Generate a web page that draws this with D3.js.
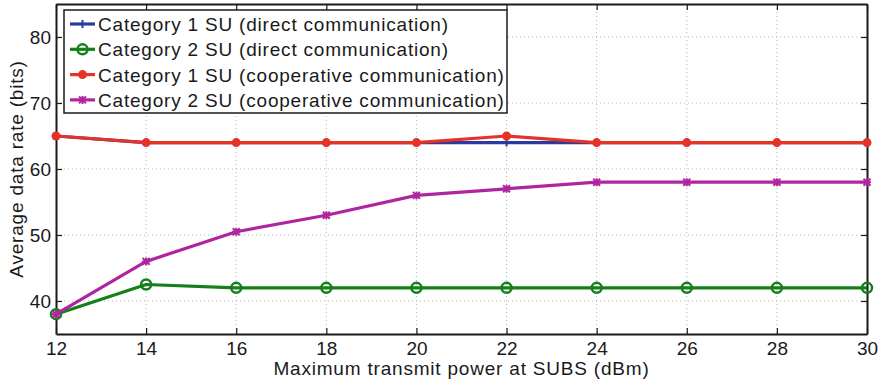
<!DOCTYPE html>
<html>
<head>
<meta charset="utf-8">
<script src="https://cdn.jsdelivr.net/npm/d3@7"></script>
<style>
  body { margin: 0; background: #fff; }
  text { font-family: "Liberation Sans", Arial, Helvetica, sans-serif; fill: #1a1a1a; }
</style>
</head>
<body>
<div id="chart"></div>
<script>
// data
var power = [12, 14, 16, 18, 20, 22, 24, 26, 28, 30];
var cat1Direct = [65, 64, 64, 64, 64, 64, 64, 64, 64, 64];
var cat2Direct = [38, 42.5, 42, 42, 42, 42, 42, 42, 42, 42];
var cat1Coop = [65, 64, 64, 64, 64, 65, 64, 64, 64, 64];
var cat2Coop = [38, 46, 50.5, 53, 56, 57, 58, 58, 58, 58];
var xTicks = [12, 14, 16, 18, 20, 22, 24, 26, 28, 30];
var yTicks = [40, 50, 60, 70, 80];

var series = [
  {name: "Category 1 SU (direct communication)", values: cat1Direct, colour: "#2b3a9e", marker: "plus"},
  {name: "Category 2 SU (direct communication)", values: cat2Direct, colour: "#13801a", marker: "circle"},
  {name: "Category 1 SU (cooperative communication)", values: cat1Coop, colour: "#e5332a", marker: "dot"},
  {name: "Category 2 SU (cooperative communication)", values: cat2Coop, colour: "#b0259f", marker: "star"}
];

var width = 884, height = 388;
var margin = {top: 4, right: 17, bottom: 54, left: 56};
var widthG = width - margin.left - margin.right;
var heightG = height - margin.top - margin.bottom;
var fontSize = "19px";
var spacing = "0.8px";

var svg = d3.select("#chart").append("svg")
  .attr("width", width)
  .attr("height", height);

var g = svg.append("g")
  .attr("transform", "translate(" + margin.left + "," + margin.top + ")");

var x = d3.scaleLinear().domain([12, 30]).range([0, widthG]);
var y = d3.scaleLinear().domain([35, 85]).range([heightG, 0]);

//grid
var grid = g.append("g").attr("class", "grid");
grid.selectAll(".vgrid")
  .data(xTicks.slice(1, -1))
  .enter().append("line")
  .attr("x1", function(d) { return x(d); })
  .attr("x2", function(d) { return x(d); })
  .attr("y1", 0)
  .attr("y2", heightG)
  .attr("stroke", "#b5b5b5")
  .attr("stroke-width", 1)
  .attr("stroke-dasharray", "1,3");
grid.selectAll(".hgrid")
  .data(yTicks)
  .enter().append("line")
  .attr("x1", 0)
  .attr("x2", widthG)
  .attr("y1", function(d) { return y(d); })
  .attr("y2", function(d) { return y(d); })
  .attr("stroke", "#b5b5b5")
  .attr("stroke-width", 1)
  .attr("stroke-dasharray", "1,3");

//axes, ticks pointing inwards like matlab
var gx = g.append("g")
  .attr("transform", "translate(0," + heightG + ")")
  .call(d3.axisBottom(x).tickValues(xTicks).tickSize(-6).tickPadding(8).tickSizeOuter(0));
var gxTop = g.append("g")
  .call(d3.axisTop(x).tickValues(xTicks).tickSize(-6).tickFormat("").tickSizeOuter(0));
var gy = g.append("g")
  .call(d3.axisLeft(y).tickValues(yTicks).tickSize(-6).tickPadding(5).tickSizeOuter(0));
var gyRight = g.append("g")
  .attr("transform", "translate(" + widthG + ",0)")
  .call(d3.axisRight(y).tickValues(yTicks).tickSize(-6).tickFormat("").tickSizeOuter(0));

[gx, gxTop, gy, gyRight].forEach(function(ax) {
  ax.select(".domain").attr("stroke", "#1a1a1a").attr("stroke-width", 2);
  ax.selectAll(".tick line").attr("stroke", "#1a1a1a").attr("stroke-width", 1.2);
  ax.selectAll(".tick text").style("font-size", fontSize).style("fill", "#1a1a1a");
});

//lines
var line = d3.line()
  .x(function(d, i) { return x(power[i]); })
  .y(function(d) { return y(d); });

function drawMarker(sel, type, colour) {
  if (type == "plus") {
    sel.append("path").attr("d", "M-4,0H4M0,-4V4")
      .attr("stroke", colour).attr("stroke-width", 2).attr("fill", "none");
  } else if (type == "circle") {
    sel.append("circle").attr("r", 5)
      .attr("fill", "none").attr("stroke", colour).attr("stroke-width", 2.5);
  } else if (type == "dot") {
    sel.append("circle").attr("r", 4.5).attr("fill", colour);
  } else {
    sel.append("path").attr("d", "M-3.5,-3.5L3.5,3.5M-3.5,3.5L3.5,-3.5M-4,0H4M0,-4V4")
      .attr("stroke", colour).attr("stroke-width", 2).attr("fill", "none");
  }
}

var lines = g.append("g").attr("class", "lines");
series.forEach(function(s) {
  lines.append("path")
    .datum(s.values)
    .attr("d", line)
    .attr("fill", "none")
    .attr("stroke", s.colour)
    .attr("stroke-width", 3.2)
    .attr("stroke-linejoin", "round");
  lines.selectAll(".m")
    .data(s.values)
    .enter().append("g")
    .attr("transform", function(d, i) { return "translate(" + x(power[i]) + "," + y(d) + ")"; })
    .each(function() { drawMarker(d3.select(this), s.marker, s.colour); });
});

//legend
var legend = g.append("g")
  .attr("transform", "translate(8,6)");
legend.append("rect")
  .attr("width", 443)
  .attr("height", 103)
  .attr("fill", "#fff")
  .attr("stroke", "#1a1a1a")
  .attr("stroke-width", 1.5);
var items = legend.selectAll(".item")
  .data(series)
  .enter().append("g")
  .attr("transform", function(d, i) { return "translate(0," + (14 + i * 25.3) + ")"; });
items.append("line")
  .attr("x1", 6).attr("x2", 31)
  .attr("stroke", function(d) { return d.colour; })
  .attr("stroke-width", 3.2);
items.append("g")
  .attr("transform", "translate(18.5,0)")
  .each(function(d) { drawMarker(d3.select(this), d.marker, d.colour); });
items.append("text")
  .attr("x", 34)
  .attr("y", 7)
  .style("font-size", fontSize)
  .style("letter-spacing", spacing)
  .text(function(d) { return d.name; });

//axis titles
g.append("text")
  .attr("x", widthG / 2)
  .attr("y", heightG + 41)
  .attr("text-anchor", "middle")
  .style("font-size", fontSize)
  .style("letter-spacing", spacing)
  .text("Maximum transmit power at SUBS (dBm)");
g.append("text")
  .attr("transform", "translate(" + (-33) + "," + (heightG / 2) + ") rotate(-90)")
  .attr("text-anchor", "middle")
  .style("font-size", fontSize)
  .style("letter-spacing", spacing)
  .text("Average data rate (bits)");
</script>
</body>
</html>
